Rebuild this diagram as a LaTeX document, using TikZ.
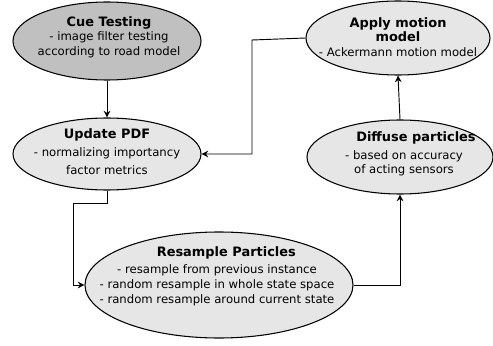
\documentclass[tikz,border=0pt]{standalone}
\usepackage{fontspec}
\setmainfont{DejaVu Sans}
\usetikzlibrary{shapes.geometric,arrows.meta}
\definecolor{lightfill}{HTML}{E6E6E6}
\definecolor{darkfill}{HTML}{C0C0C0}
\tikzset{
  stage/.style={ellipse, draw=black, line width=0.8pt, fill=lightfill, inner sep=0pt},
  txt/.style={inner sep=0pt, align=center, font=\fontsize{8.75}{12}\selectfont},
  conn/.style={line width=0.7pt, -{Stealth[length=5pt,width=5pt]}},
}
\newcommand{\ttl}[1]{{\fontsize{9.7}{12}\selectfont\bfseries #1}}
\begin{document}
\begin{tikzpicture}[x=0.75pt,y=-0.75pt]
\useasboundingbox (0,0) rectangle (493,346);
\node[stage, fill=darkfill, minimum width=188*0.75pt, minimum height=78*0.75pt] (cue) at (107,41) {};
\node[txt] (cuet) at (109,37) {\ttl{Cue Testing}\\[-1pt] - image filter testing\\[-1pt] according to road model};
\node[stage, minimum width=188*0.75pt, minimum height=72*0.75pt] (upd) at (107,154) {};
\node[txt] (updt) at (107,152) {\ttl{Update PDF}\\[1pt] - normalizing importancy\\[2pt] factor metrics};
\node[stage, minimum width=184*0.75pt, minimum height=74*0.75pt] (app) at (398,38) {};
\node[txt] (appt) at (398,37) {\ttl{Apply motion}\\[-1pt]\ttl{model}\\[-1pt] - Ackermann motion model};
\node[stage, minimum width=186*0.75pt, minimum height=74*0.75pt] (dif) at (400,157) {};
\node[txt] (dift) at (404,154) {\ttl{\hspace*{18pt}Diffuse particles}\\[1pt] - based on accuracy\\[-1pt] of acting sensors};
\node[stage, minimum width=268*0.75pt, minimum height=106*0.75pt] (res) at (219,285) {};
\node[txt] (rest) at (217,276) {\ttl{\hspace*{14pt}Resample Particles}\\[1pt] - resample from previous instance\\[-1pt] - random resample in whole state space\\[-1pt] - random resample around current state};
\coordinate (c1) at (252,40);
\coordinate (c2) at (252,154);
\coordinate (d1) at (107,203);
\coordinate (d2) at (73,203);
\coordinate (d3) at (73,285);
\coordinate (e1) at (400,285);
\draw[conn] (cue.south) -- (upd.north);
\draw[conn] (app.west) -- (c1) -- (c2) -- (upd.east);
\draw[conn] (upd.south) -- (d1) -- (d2) -- (d3) -- (res.west);
\draw[conn] (res.east) -- (e1) -- (dif.south);
\draw[conn] (dif.north) -- (app.south);
\end{tikzpicture}
\end{document}
